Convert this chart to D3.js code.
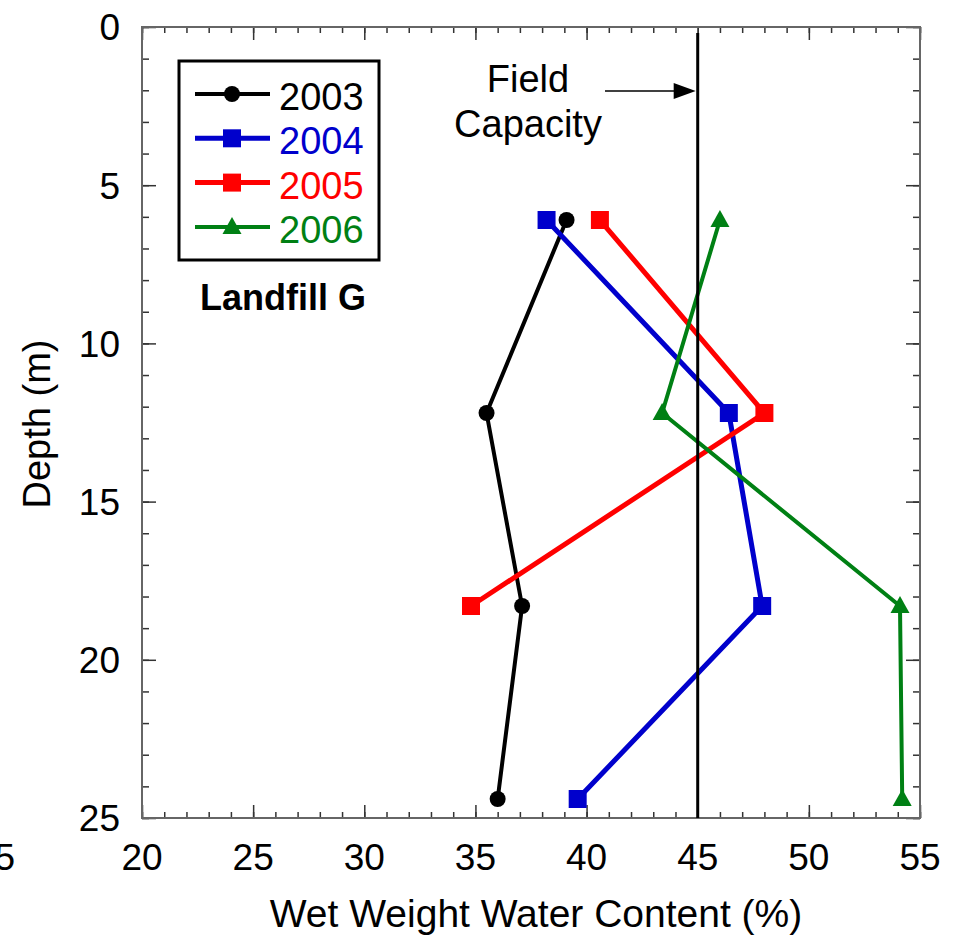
<!DOCTYPE html>
<html>
<head>
<meta charset="utf-8">
<script src="https://cdn.jsdelivr.net/npm/d3@7"></script>
<style>
  body { margin: 0; background: #fff; }
  svg { display: block; font-family: "Liberation Sans", Arial, sans-serif; }
</style>
</head>
<body>
<div id="chart"></div>
<script>
// depth of the samples (m), shared by all years
const depths = [6.1, 12.2, 18.3, 24.4];
const years = ["2003", "2004", "2005", "2006"];
const water2003 = [39.1, 35.5, 37.1, 36.0];
const water2004 = [38.2, 46.4, 47.9, 39.6];
const water2005 = [40.6, 48.0, 34.8];
const water2006 = [46.0, 43.4, 54.1, 54.2];
const fieldCapacity = 45;
const xTicks = [20, 25, 30, 35, 40, 45, 50, 55];
const yTicks = [0, 5, 10, 15, 20, 25];

const width = 955, height = 937;
const x0 = 142, x1 = 920, y0 = 27, y1 = 818;
const font = 37;

const series = [
  {name: years[0], values: water2003, color: "#000000", shape: "circle", lw: 4},
  {name: years[1], values: water2004, color: "#0000cc", shape: "square", lw: 5},
  {name: years[2], values: water2005, color: "#ff0000", shape: "square", lw: 5},
  {name: years[3], values: water2006, color: "#008014", shape: "triangle", lw: 4}
];

const svg = d3.select("#chart").append("svg")
  .attr("width", width).attr("height", height);

const x = d3.scaleLinear().domain([20, 55]).range([x0, x1]);
const y = d3.scaleLinear().domain([0, 25]).range([y0, y1]);

const minorX = d3.range(20, 56, 1), minorY = d3.range(0, 26, 1);

// frame ticks, all pointing inward
const tickAxis = (axis, pos, vals, size) => {
  svg.append("g").attr("transform", pos)
    .call(axis.tickValues(vals).tickSize(size).tickFormat(""))
    .call(g => g.select(".domain").remove())
    .call(g => g.selectAll("line").attr("stroke", "#333").attr("stroke-width", 1.5));
};
tickAxis(d3.axisBottom(x), `translate(0,${y1})`, minorX, -6);
tickAxis(d3.axisBottom(x), `translate(0,${y1})`, xTicks, -13);
tickAxis(d3.axisTop(x), `translate(0,${y0})`, minorX, -6);
tickAxis(d3.axisTop(x), `translate(0,${y0})`, xTicks, -13);
tickAxis(d3.axisLeft(y), `translate(${x0},0)`, minorY, -7);
tickAxis(d3.axisLeft(y), `translate(${x0},0)`, yTicks, -14);
tickAxis(d3.axisRight(y), `translate(${x1},0)`, minorY, -7);
tickAxis(d3.axisRight(y), `translate(${x1},0)`, yTicks, -14);

svg.append("rect")
  .attr("x", x0).attr("y", y0).attr("width", x1 - x0).attr("height", y1 - y0)
  .attr("fill", "none").attr("stroke", "#666").attr("stroke-width", 2);

// tick labels
svg.append("g").selectAll("text").data(xTicks).join("text")
  .attr("x", d => x(d)).attr("y", 870)
  .attr("text-anchor", "middle").attr("font-size", font)
  .text(d => d);
// stray label cut by the left edge in the original
svg.append("text").attr("x", 15).attr("y", 870)
  .attr("text-anchor", "end").attr("font-size", font).text("15");
svg.append("g").selectAll("text").data(yTicks).join("text")
  .attr("x", 120).attr("y", d => y(d)).attr("dy", "0.36em")
  .attr("text-anchor", "end").attr("font-size", font)
  .text(d => d);

// axis titles
svg.append("text").attr("x", 536).attr("y", 927)
  .attr("text-anchor", "middle").attr("font-size", 39)
  .text("Wet Weight Water Content (%)");
svg.append("text")
  .attr("transform", "translate(50,424) rotate(-90)")
  .attr("text-anchor", "middle").attr("font-size", 38)
  .text("Depth (m)");

const symbolFor = (shape) => {
  if (shape === "circle") return d3.symbol(d3.symbolCircle, 201)();
  if (shape === "square") return d3.symbol(d3.symbolSquare, 324)();
  return "M0,-10L9.5,7L-9.5,7Z";
};

const line = d3.line().x(d => x(d[0])).y(d => y(d[1]));

series.forEach(s => {
  const pts = s.values.map((v, i) => [v, depths[i]]);
  svg.append("path").datum(pts)
    .attr("d", line).attr("fill", "none")
    .attr("stroke", s.color).attr("stroke-width", s.lw)
    .attr("stroke-linejoin", "round");
});

// field capacity line
svg.append("line")
  .attr("x1", x(fieldCapacity)).attr("x2", x(fieldCapacity))
  .attr("y1", y0 + 6).attr("y2", y1)
  .attr("stroke", "#000").attr("stroke-width", 3);

series.forEach(s => {
  const pts = s.values.map((v, i) => [v, depths[i]]);
  svg.append("g").selectAll("path").data(pts).join("path")
    .attr("transform", d => `translate(${x(d[0])},${y(d[1])})`)
    .attr("d", symbolFor(s.shape)).attr("fill", s.color);
});

// annotation
svg.append("text").attr("x", 528).attr("y", 92)
  .attr("text-anchor", "middle").attr("font-size", 38).text("Field");
svg.append("text").attr("x", 528).attr("y", 137)
  .attr("text-anchor", "middle").attr("font-size", 38).text("Capacity");
const ay = 91, ax = x(fieldCapacity) - 2;
svg.append("line").attr("x1", 605).attr("x2", ax - 18).attr("y1", ay).attr("y2", ay)
  .attr("stroke", "#000").attr("stroke-width", 1.5);
svg.append("path").attr("d", `M${ax},${ay}L${ax - 22},${ay - 8}L${ax - 22},${ay + 8}Z`)
  .attr("fill", "#000");

// legend
const legend = svg.append("g");
legend.append("rect").attr("x", 179).attr("y", 61).attr("width", 200).attr("height", 199)
  .attr("fill", "#fff").attr("stroke", "#000").attr("stroke-width", 3);
series.forEach((s, i) => {
  const ly = 94 + i * 44.3;
  legend.append("line").attr("x1", 195).attr("x2", 270).attr("y1", ly).attr("y2", ly)
    .attr("stroke", s.color).attr("stroke-width", s.lw);
  legend.append("path").attr("transform", `translate(232,${ly})`)
    .attr("d", symbolFor(s.shape)).attr("fill", s.color);
  legend.append("text").attr("x", 279).attr("y", ly + 16)
    .attr("font-size", 38).attr("fill", s.color).text(s.name);
});
svg.append("text").attr("x", 283).attr("y", 310)
  .attr("text-anchor", "middle").attr("font-size", 36).attr("font-weight", "bold")
  .text("Landfill G");
</script>
</body>
</html>
